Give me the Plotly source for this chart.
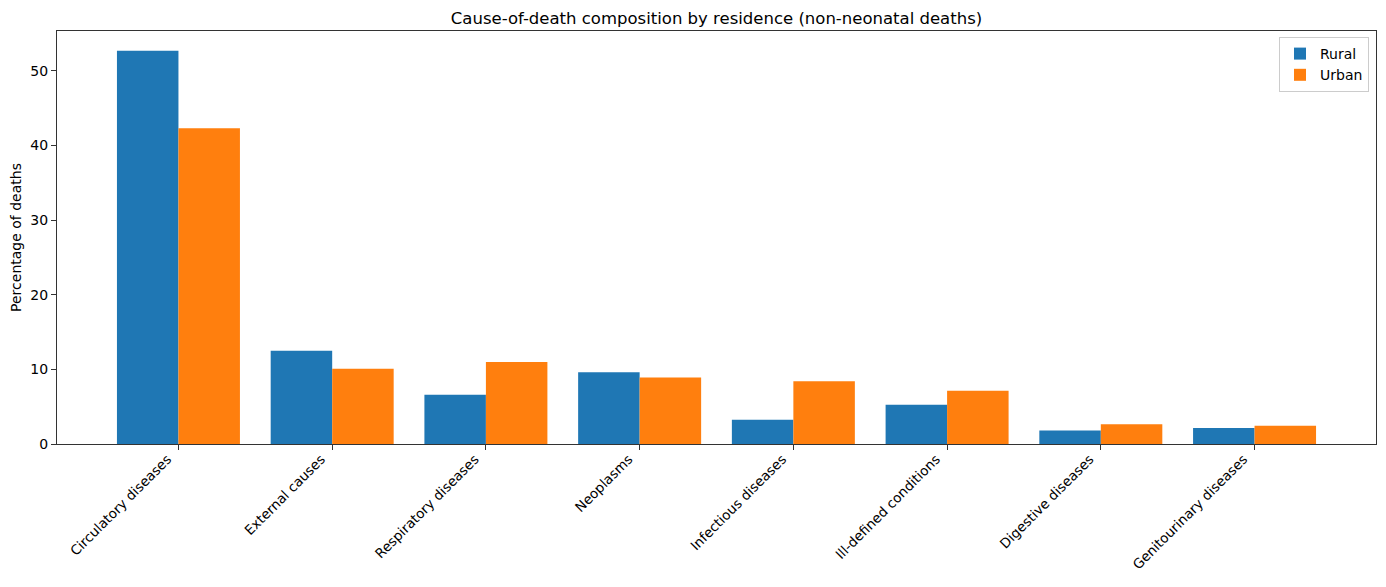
import plotly.graph_objects as go

categories = ["Circulatory diseases", "External causes", "Respiratory diseases", "Neoplasms",
              "Infectious diseases", "Ill-defined conditions", "Digestive diseases", "Genitourinary diseases"]
rural = [52.7, 12.5, 6.6, 9.6, 3.25, 5.25, 1.8, 2.15]
urban = [42.3, 10.1, 11.0, 8.9, 8.4, 7.15, 2.65, 2.45]

# page body has an 8px offset; compensate
OFF = 8
W, H = 1386 - OFF, 587 - OFF
ml, mr, mt, mb = 57 - OFF, 10, 31 - OFF, 143

fig = go.Figure()
fig.add_trace(go.Bar(x=categories, y=rural, name="Rural", marker=dict(color="#1f77b4", line=dict(width=0))))
fig.add_trace(go.Bar(x=categories, y=urban, name="Urban", marker=dict(color="#ff7f0e", line=dict(width=0))))

font = "DejaVu Sans, Liberation Sans, sans-serif"
fig.update_layout(
    width=W, height=H,
    margin=dict(l=ml, r=mr, t=mt, b=mb, autoexpand=False),
    barmode="group", bargap=0.2, bargroupgap=0,
    plot_bgcolor="white", paper_bgcolor="white",
    font=dict(family=font, size=14, color="black"),
    title=dict(text="Cause-of-death composition by residence (non-neonatal deaths)",
               x=(ml + (W - ml - mr) / 2) / W, xanchor="center", y=1 - (18 - OFF) / H, yanchor="middle",
               font=dict(size=16.5, color="black")),
    legend=dict(x=1 - 7 / (W - ml - mr), xanchor="right", y=1 - 6 / (H - mt - mb), yanchor="top",
                bordercolor="#cccccc", borderwidth=1, bgcolor="rgba(255,255,255,0.8)",
                font=dict(size=14), tracegroupgap=0),
    xaxis=dict(range=[-0.79, 7.79], tickangle=-45, showline=True, linecolor="#333333", linewidth=1.2,
               mirror=True, ticks="outside", ticklen=5, tickcolor="#333333", showgrid=False,
               tickfont=dict(size=13.5), ticklabelshift=-11, ticklabelstandoff=-4),
    yaxis=dict(range=[0, 55.35], tickvals=[0, 10, 20, 30, 40, 50], showline=True, linecolor="#333333",
               linewidth=1.2, mirror=True, ticks="outside", ticklen=5, tickcolor="#333333",
               showgrid=False, zeroline=False, tickfont=dict(size=14),
               title=dict(text="Percentage of deaths", font=dict(size=14), standoff=8)),
)
fig.write_html("out.html")
